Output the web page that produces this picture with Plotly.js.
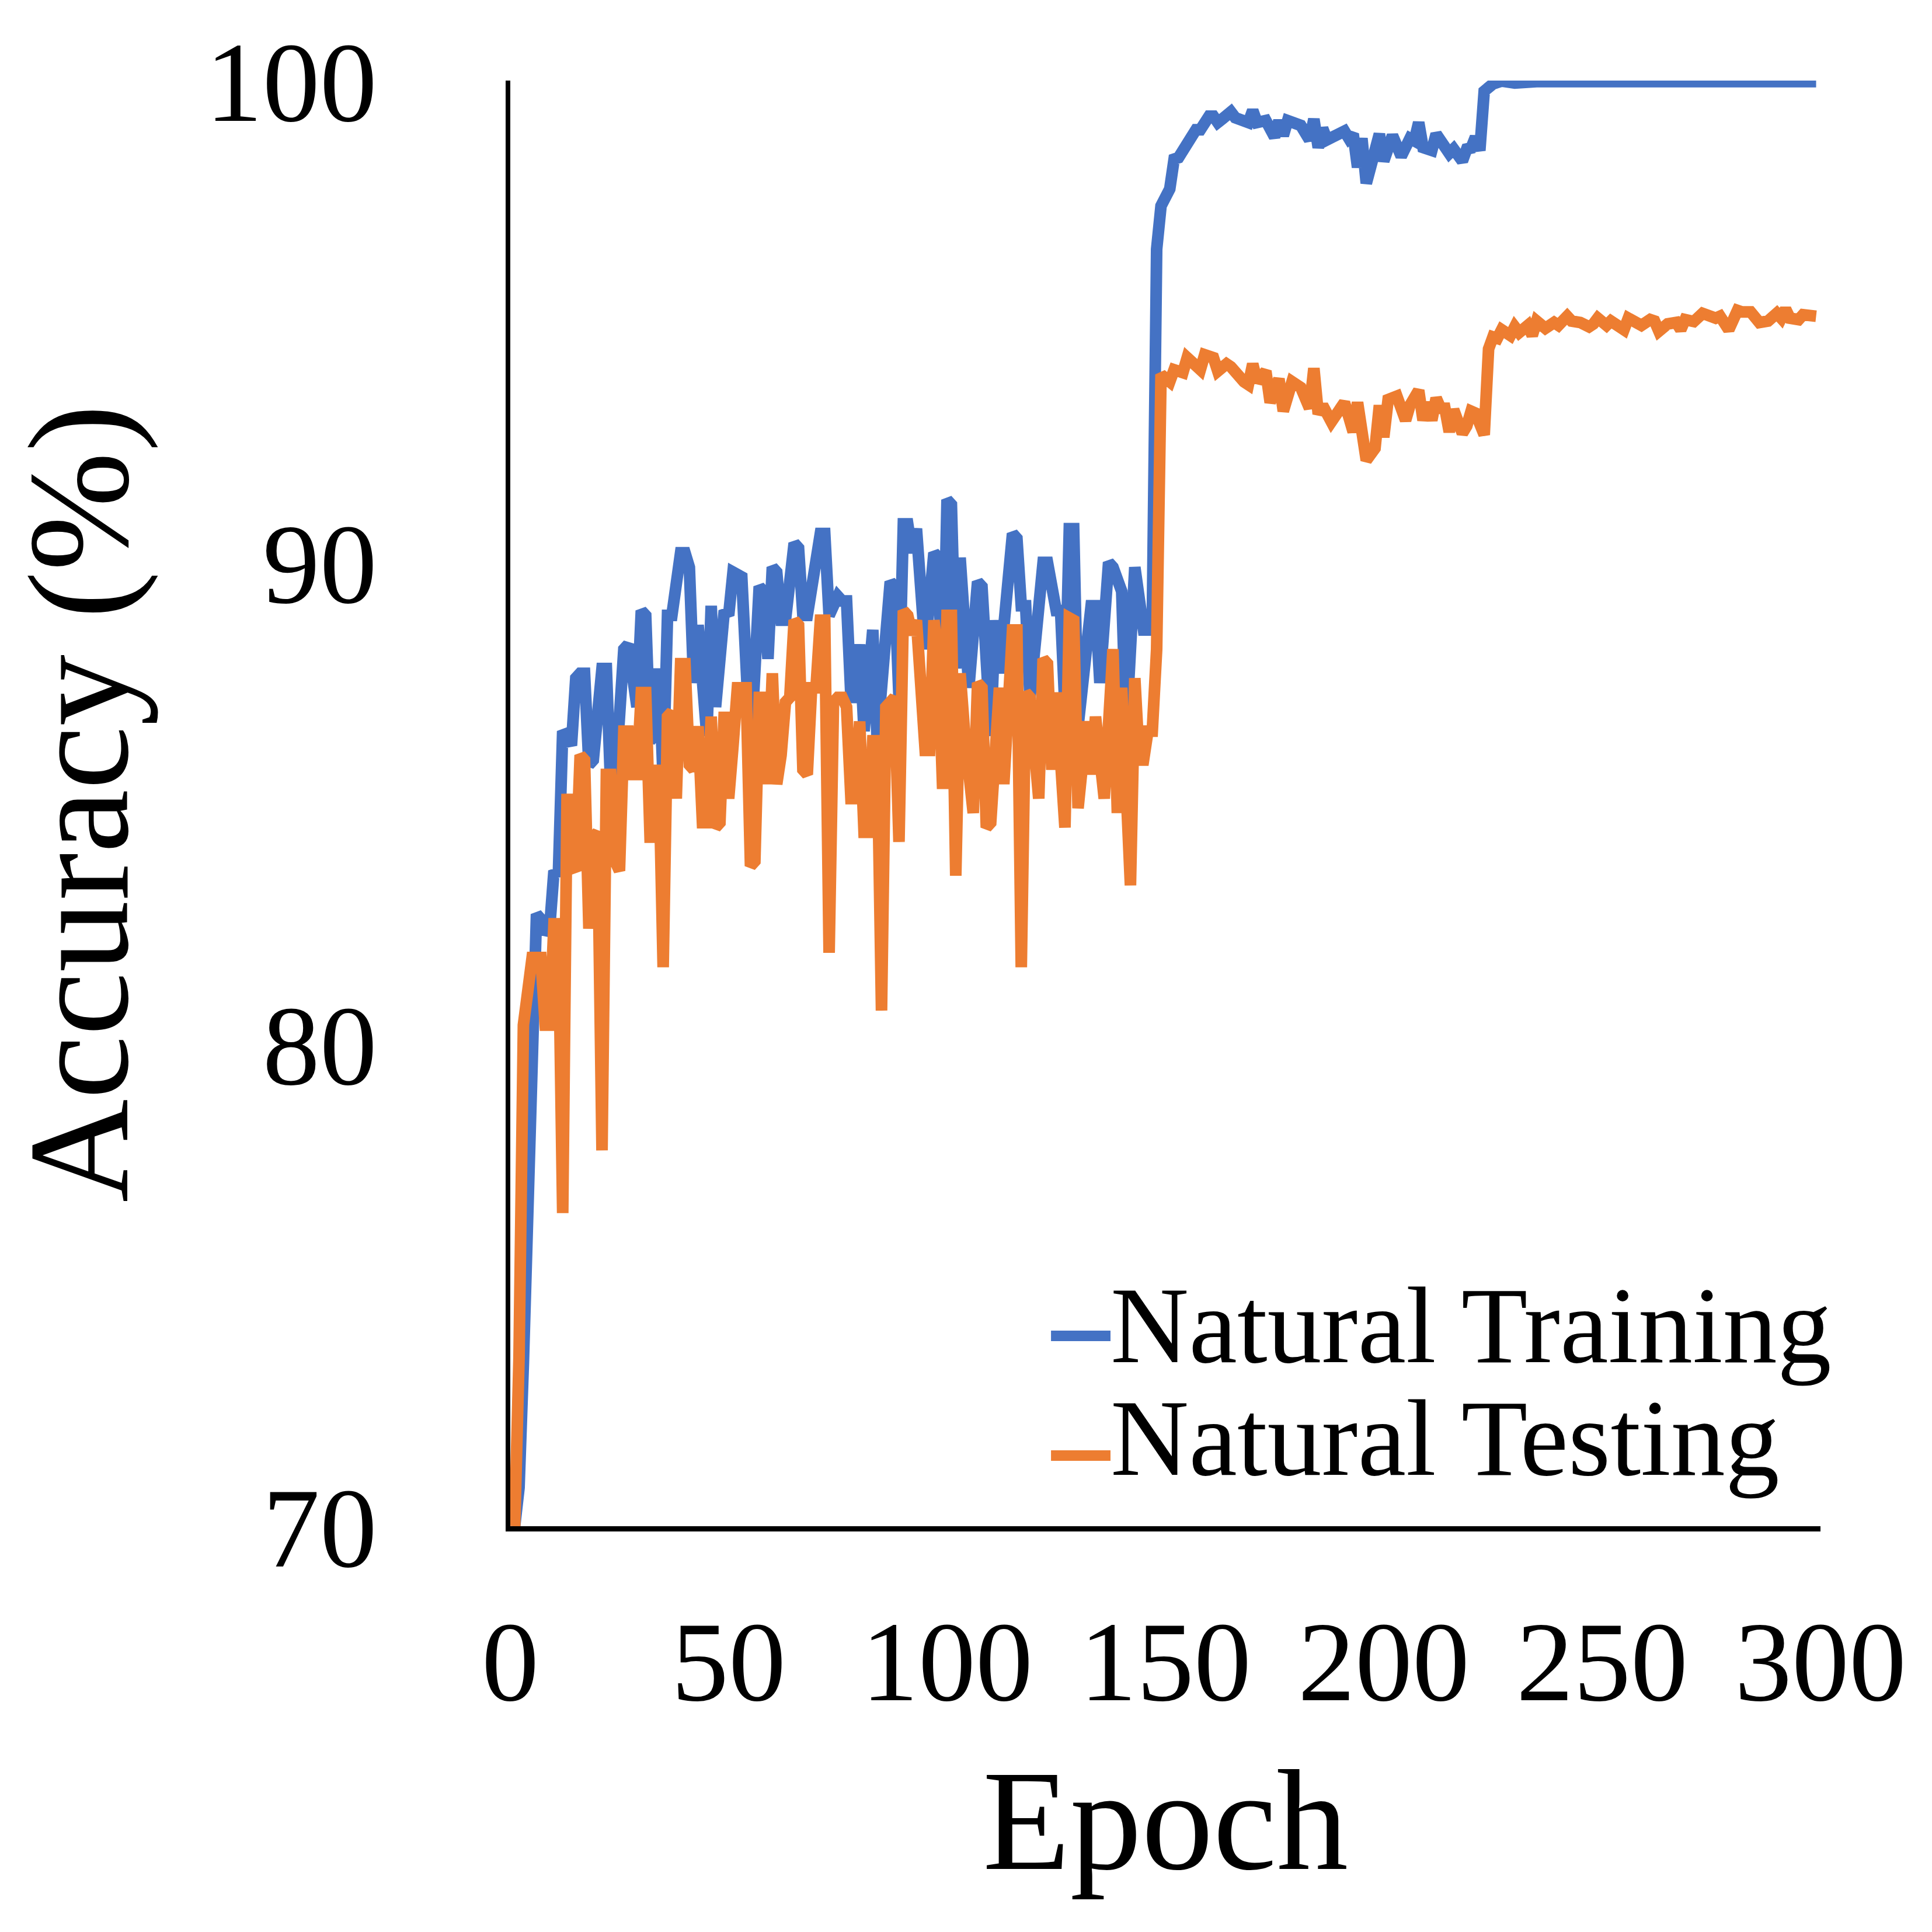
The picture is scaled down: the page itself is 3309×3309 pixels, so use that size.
<!DOCTYPE html>
<html>
<head>
<meta charset="utf-8">
<script src="https://cdn.plot.ly/plotly-3.0.1.min.js"></script>
<style>html,body{margin:0;padding:0;background:#fff;}#chart{width:3309px;height:3309px;}</style>
</head>
<body>
<div id="chart"></div>
<script>
// Natural Training accuracy (%) — epoch / value pairs
const trainEpoch = [1,2,3,4,5,6,7,8,9,10,11,12,13,14,15,16,17,18,19,21,22,23,24,26,27,29,30,31,32,33,34,35,36,37,39,40,41,42,43,45,46,47,48,49,50,51,53,55,57,58,59,60,61,62,63,65,66,67,68,71,72,73,75,76,77,78,79,80,81,83,84,87,88,89,90,91,92,93,95,97,98,99,100,101,102,103,105,107,108,110,111,112,115,116,117,118,119,120,122,123,124,125,126,127,128,129,130,133,134,135,137,138,140,141,143,145,146,147,148,149,151,152,153,155,157,158,160,161,162,163,165,166,168,169,170,171,173,175,176,177,178,181,183,184,185,186,187,189,191,192,193,194,195,196,198,199,200,202,204,206,207,208,209,210,211,212,213,214,215,216,218,219,220,221,222,223,225,227,230,235,240,250,260,270,280,290,299];
const trainAcc = [70.0,70.8,73.4,76.4,80.4,82.7,82.6,82.3,82.4,83.6,83.5,86.5,86.4,86.2,87.6,87.7,87.7,85.8,85.9,87.8,87.8,85.3,85.4,88.2,88.3,87.0,89.0,88.9,86.3,86.4,87.8,85.5,88.9,88.9,90.2,90.2,89.9,87.5,88.7,86.4,89.1,87.0,88.0,89.0,88.9,89.8,89.7,86.0,89.5,89.4,88.0,89.9,89.8,88.8,88.8,90.4,90.3,88.9,88.9,90.6,90.6,88.9,89.3,89.2,89.2,87.2,87.2,88.3,86.5,88.6,86.3,89.6,89.5,87.2,90.8,90.8,90.2,90.7,88.2,90.2,90.1,87.0,91.3,91.2,87.8,90.1,87.4,89.6,89.5,86.4,88.8,87.7,90.6,90.5,89.1,89.1,87.2,88.3,90.0,90.0,89.4,89.0,89.0,87.0,90.7,90.7,86.6,89.1,89.1,87.5,90.0,89.9,89.4,86.5,89.9,88.6,88.6,88.8,96.5,97.4,97.75,98.37,98.4,98.7,98.98,98.98,99.26,99.26,99.13,99.2,99.35,99.23,99.2,99.13,99.38,99.13,99.17,98.83,99.17,98.86,99.17,99.07,98.77,99.2,98.61,99.01,98.77,98.86,98.95,98.8,98.89,98.2,98.8,97.87,98.6,98.89,98.33,98.86,98.43,98.8,98.75,99.13,98.61,98.6,98.55,98.89,98.75,98.67,98.49,98.58,98.33,98.58,98.6,98.83,98.55,99.78,99.93,99.99,99.95,99.98,99.97,99.98,99.98,99.98,99.98,99.98,99.98];

// Natural Testing accuracy (%)
const testEpoch = [1,2,3,4,5,7,8,9,10,11,12,13,14,15,16,17,18,19,20,21,22,23,24,25,26,27,28,29,30,31,32,33,34,35,36,37,38,39,40,41,42,43,44,45,46,47,48,49,50,51,52,53,54,55,56,57,58,59,60,61,62,63,64,65,66,67,68,69,70,71,72,73,74,75,76,77,78,79,80,81,82,83,84,85,86,87,88,89,90,91,92,93,94,95,96,97,98,99,100,101,102,103,104,106,107,108,109,110,111,112,113,114,115,116,117,118,119,121,122,123,124,125,127,128,129,130,132,133,134,136,138,139,140,142,143,144,145,146,147,148,149,151,152,154,155,158,159,161,162,164,165,168,169,170,171,173,174,176,177,179,181,183,184,185,186,188,189,191,192,193,194,196,198,199,200,201,203,205,206,208,209,210,211,212,213,214,215,216,218,219,220,221,223,224,225,226,227,229,230,231,233,234,235,237,239,240,242,243,245,247,248,249,251,252,255,256,259,261,262,263,265,267,268,269,271,273,276,277,279,281,282,284,286,287,288,290,291,292,293,295,296,299];
const testAcc = [70.0,73.5,80.4,81.0,81.8,81.8,80.4,80.4,82.5,82.5,76.5,85.2,83.7,83.6,86.0,85.9,82.4,84.3,84.4,77.8,85.6,85.6,83.8,83.6,86.5,86.5,85.6,85.6,87.3,87.3,84.3,84.3,85.8,81.6,86.8,86.9,85.1,87.9,87.9,85.8,85.7,86.6,84.6,84.6,86.8,84.5,84.6,86.9,85.1,86.2,87.4,87.4,87.4,83.7,83.8,87.2,87.2,85.4,87.7,85.4,86.0,87.1,87.2,88.8,88.7,85.7,85.6,87.4,87.4,88.8,88.8,81.9,87.1,87.2,87.2,87.0,85.1,85.1,86.7,84.4,84.4,86.3,86.3,80.7,87.0,87.1,87.2,84.2,89.0,88.9,88.5,88.8,87.6,86.1,86.1,88.8,88.0,85.3,88.9,88.9,83.5,87.7,86.5,84.8,87.5,87.4,84.5,84.6,86.0,87.4,85.4,87.0,88.6,88.6,81.6,87.3,87.2,85.1,88.0,87.9,85.7,87.3,84.5,88.85,88.8,84.9,86.7,85.6,86.8,85.1,88.2,84.8,87.4,83.3,87.6,85.9,85.9,86.5,86.5,88.2,93.9,93.75,94.0,93.94,94.25,94.0,94.31,94.25,93.97,94.12,94.06,93.75,93.69,94.12,93.75,93.97,93.32,93.81,93.14,93.75,93.63,93.2,94.03,93.08,93.26,92.92,93.08,93.32,93.02,92.71,93.32,92.12,92.37,93.26,92.6,93.38,93.45,92.95,93.26,93.57,92.95,93.32,92.95,93.41,93.2,93.2,92.71,93.17,92.68,92.83,93.14,93.1,92.65,94.43,94.68,94.65,94.83,94.71,94.89,94.77,94.92,94.71,95.01,94.86,94.98,94.92,95.11,95.01,94.98,94.89,94.95,95.07,94.92,95.01,94.83,95.07,94.92,95.04,95.01,94.8,94.95,94.98,94.83,95.04,95.0,95.17,95.07,95.11,94.83,95.23,95.2,95.2,94.98,95.0,95.01,95.17,95.07,95.26,95.07,95.04,95.14,95.11];

const seriesNames = ['Natural Training', 'Natural Testing'];
const seriesColors = ['#4472C4', '#ED7D31'];
const xTicks = [0, 50, 100, 150, 200, 250, 300];
const yTicks = [70, 80, 90, 100];

const FONT = 'Liberation Serif, Times New Roman, serif';

const traces = [
  {x: trainEpoch, y: trainAcc, name: seriesNames[0], type: 'scatter', mode: 'lines',
   line: {color: seriesColors[0], width: 20}, cliponaxis: false, showlegend: false},
  {x: testEpoch, y: testAcc, name: seriesNames[1], type: 'scatter', mode: 'lines',
   line: {color: seriesColors[1], width: 20}, cliponaxis: false, showlegend: false}
];

// manual legend (line sample + label)
const legLineY = [0.1317, 0.0489];
const legTextY = [0.1387, 0.0606];
const shapes = seriesNames.map((n, i) => ({
  type: 'line', xref: 'paper', yref: 'paper', x0: 0.4127, x1: 0.4581, y0: legLineY[i], y1: legLineY[i],
  line: {color: seriesColors[i], width: 18}
}));
const annotations = seriesNames.map((n, i) => ({
  text: n, xref: 'paper', yref: 'paper', x: 0.4572, y: legTextY[i], xanchor: 'left', yanchor: 'middle',
  showarrow: false, font: {family: FONT, size: 186, color: '#000'}
}));

const layout = {
  width: 3309, height: 3309,
  paper_bgcolor: '#fff', plot_bgcolor: '#fff',
  margin: {l: 874, r: 191, t: 138, b: 695, pad: 0},
  font: {family: FONT, color: '#000'},
  showlegend: false,
  xaxis: {
    range: [0, 300], tickvals: xTicks, ticktext: xTicks.map(String),
    showgrid: false, zeroline: false, showline: true, linecolor: '#000', linewidth: 9,
    ticks: '', ticklabelstandoff: 54, tickfont: {family: FONT, size: 196, color: '#000'},
    title: {text: 'Epoch', font: {family: FONT, size: 245, color: '#000'}, standoff: 80},
    automargin: false
  },
  yaxis: {
    range: [70, 100], tickvals: yTicks, ticktext: yTicks.map(String),
    showgrid: false, zeroline: false, showline: true, linecolor: '#000', linewidth: 8,
    ticks: '', ticklabelstandoff: 181, tickfont: {family: FONT, size: 196, color: '#000'},
    title: {text: 'Accuracy (%)', font: {family: FONT, size: 245, color: '#000'}, standoff: 72},
    automargin: false
  },
  shapes: shapes,
  annotations: annotations
};

Plotly.newPlot('chart', traces, layout, {staticPlot: true, displayModeBar: false});
</script>
</body>
</html>
